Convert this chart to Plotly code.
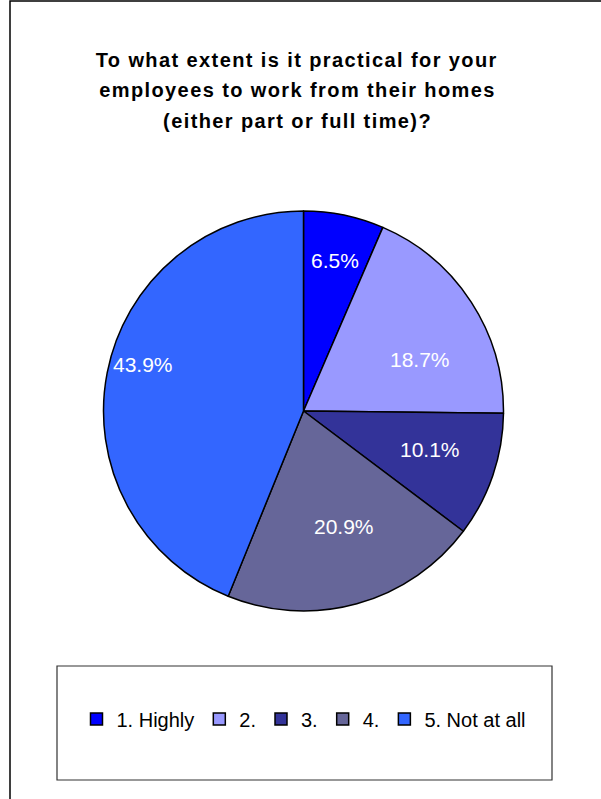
import math
import plotly.graph_objects as go

# Survey answers and their share of respondents (%)
categories = ["1. Highly", "2.", "3.", "4.", "5. Not at all"]
shares = [6.5, 18.7, 10.1, 20.9, 43.9]
slice_colors = ["#0000FF", "#9999FF", "#333399", "#666699", "#3366FF"]

title_lines = [
    "To what extent is it practical for your",
    "employees to work from their homes",
    "(either part or full time)?",
]

# label placement: fraction of the radius, and a small turn (deg) off the mid-angle
label_radius = [0.77, 0.635, 0.66, 0.61, 0.835]
label_turn = [0, 9, -2, -4, 5]

W, H = 601, 799
FONT = "Arial, Liberation Sans, sans-serif"

# pie placement in pixels
CX, CY, R = 303.5, 411, 200


def py(px):
    """Pixel row (from top) to paper y."""
    return 1 - px / H


def pxx(px):
    return px / W


fig = go.Figure(
    go.Pie(
        labels=categories,
        values=shares,
        sort=False,
        direction="clockwise",
        rotation=0,
        marker=dict(colors=slice_colors, line=dict(color="#000000", width=1.5)),
        textinfo="none",
        hoverinfo="label+value",
        domain=dict(x=[pxx(CX - R), pxx(CX + R)], y=[py(CY + R), py(CY - R)]),
    )
)

annotations = []
for i, line in enumerate(title_lines):
    annotations.append(
        dict(
            text=f"<b>{line}</b>",
            x=pxx(297),
            y=py(60 + i * 30.5),
            xref="paper",
            yref="paper",
            xanchor="center",
            yanchor="middle",
            showarrow=False,
            font=dict(family=FONT, size=20, color="#000000"),
        )
    )

# percentage labels around each slice's mid-angle (clockwise from 12 o'clock)
total = sum(shares)
cum = 0.0
for val, frac, turn in zip(shares, label_radius, label_turn):
    mid = (cum + val / 2) / total * 2 * math.pi + math.radians(turn)
    cum += val
    lx = CX + frac * R * math.sin(mid)
    ly = CY - frac * R * math.cos(mid)
    annotations.append(
        dict(
            text=f"{val:.1f}%",
            x=pxx(lx),
            y=py(ly),
            xref="paper",
            yref="paper",
            xanchor="center",
            yanchor="middle",
            showarrow=False,
            font=dict(family=FONT, size=21, color="#FFFFFF"),
        )
    )

shapes = [
    # outer chart frame
    dict(type="rect", xref="paper", yref="paper",
         x0=pxx(10), x1=pxx(640), y0=py(1), y1=py(840),
         line=dict(color="#000000", width=1.5), fillcolor="rgba(0,0,0,0)", layer="below"),
    # legend box
    dict(type="rect", xref="paper", yref="paper",
         x0=pxx(57), x1=pxx(552), y0=py(666), y1=py(780),
         line=dict(color="#333333", width=1.2), fillcolor="#FFFFFF", layer="below"),
]

fig.update_layout(
    width=W,
    height=H,
    margin=dict(l=0, r=0, t=0, b=0),
    paper_bgcolor="#FFFFFF",
    plot_bgcolor="#FFFFFF",
    showlegend=True,
    legend=dict(
        orientation="h",
        x=pxx(304),
        xanchor="center",
        y=py(719),
        yanchor="middle",
        font=dict(family=FONT, size=20, color="#000000"),
        itemwidth=30,
        bgcolor="rgba(0,0,0,0)",
        traceorder="normal",
    ),
    annotations=annotations,
    shapes=shapes,
)

# widen the tracking of the three title lines
title_spacing_js = """
for (var i = 0; i < %d; i++) {
  var t = document.querySelector('g.annotation[data-index="' + i + '"] text');
  if (t) { t.style.letterSpacing = '1.4px'; }
}
""" % len(title_lines)

fig.write_html("out.html", post_script=title_spacing_js)
